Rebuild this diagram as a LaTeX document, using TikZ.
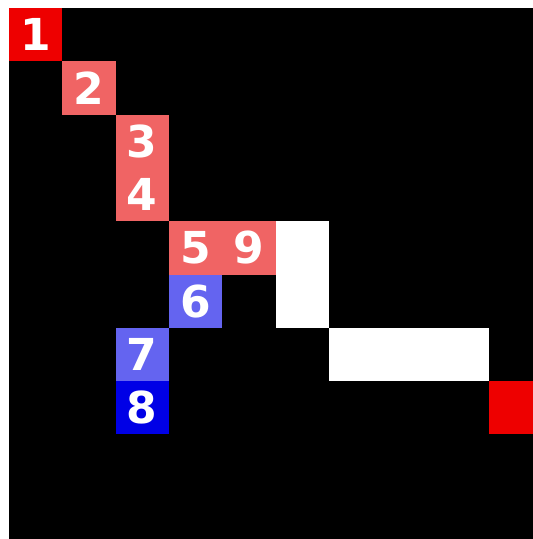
\documentclass[tikz,border=0pt]{standalone}
\usepackage{fontspec}
\newfontfamily\cellfont{DejaVu Sans}
\definecolor{cRed}{RGB}{238,0,0}
\definecolor{cLRed}{RGB}{240,100,100}
\definecolor{cMBlue}{RGB}{100,100,240}
\definecolor{cBlue}{RGB}{0,0,230}
\definecolor{cWhite}{RGB}{255,255,255}
\tikzset{
  cellbox/.style={fill=#1, draw=none, minimum width=53.3pt, minimum height=53.3pt, inner sep=0pt, outer sep=0pt,
    text=white, font=\cellfont\bfseries\fontsize{44}{44}\selectfont, anchor=north west},
  wallbox/.style={fill=cWhite, draw=none}
}
\begin{document}
\begin{tikzpicture}[x=1pt,y=1pt]
\useasboundingbox (0,0) rectangle (533,-539);
\fill[white] (0,0) rectangle (533,-539);
\begin{scope}
\clip (9,-8) rectangle (533,-539);
\fill[black] (9,-8) rectangle (560,-560);
% grid origin (9,-8), cell 53.3
\node[cellbox=cRed]   (n1) at (9+0*53.3, -8-0*53.3) {1};
\node[cellbox=cLRed]  (n2) at (9+1*53.3, -8-1*53.3) {2};
\node[cellbox=cLRed]  (n3) at (9+2*53.3, -8-2*53.3) {3};
\node[cellbox=cLRed]  (n4) at (9+2*53.3, -8-3*53.3) {4};
\node[cellbox=cLRed]  (n5) at (9+3*53.3, -8-4*53.3) {5};
\node[cellbox=cLRed]  (n9) at (9+4*53.3, -8-4*53.3) {9};
\node[cellbox=cMBlue] (n6) at (9+3*53.3, -8-5*53.3) {6};
\node[cellbox=cMBlue] (n7) at (9+2*53.3, -8-6*53.3) {7};
\node[cellbox=cBlue]  (n8) at (9+2*53.3, -8-7*53.3) {8};
\fill[wallbox] (9+5*53.3, -8-4*53.3) rectangle (9+6*53.3, -8-6*53.3);
\fill[wallbox] (9+6*53.3, -8-6*53.3) rectangle (9+9*53.3, -8-7*53.3);
\node[cellbox=cRed] (goal) at (9+9*53.3, -8-7*53.3) {};
\end{scope}
\end{tikzpicture}
\end{document}
